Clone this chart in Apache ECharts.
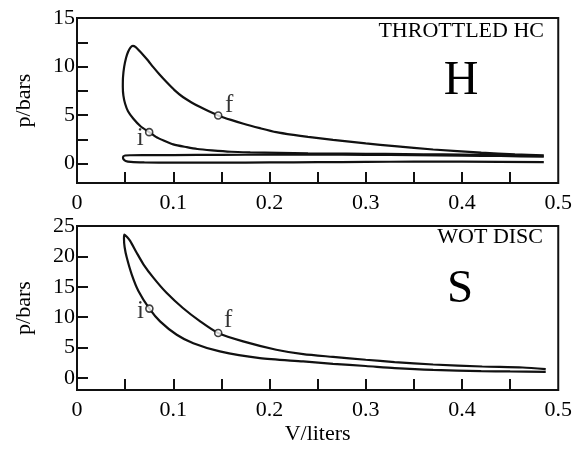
<!DOCTYPE html>
<html>
<head>
<meta charset="utf-8">
<script src="https://cdn.jsdelivr.net/npm/echarts@6/dist/echarts.min.js"></script>
<style>
html,body{margin:0;padding:0;background:#fff;}
#chart{width:575px;height:461px;}
</style>
</head>
<body>
<div id="chart"></div>
<script>
// ---- Data ----
// Throttled HC (H): main loop, compression (from BDC leftwards) then expansion
const hLoopV = [0.485,0.44,0.40,0.36,0.32,0.28,0.24,0.21,0.18,0.16,0.14,0.125,0.114,0.10,0.09,0.082,0.075,0.066,0.0586,0.053,0.050,0.0482,0.0476,0.0478,0.049,0.051,0.053,0.0555,0.058,
  0.061,0.065,0.069,0.074,0.079,0.086,0.093,0.101,0.110,0.119,0.128,0.137,0.1467,0.16,0.173,0.19,0.207,0.225,0.24,0.266,0.30,0.33,0.37,0.42,0.455,0.485];
const hLoopP = [0.82,0.88,0.92,0.96,1.0,1.02,1.05,1.1,1.16,1.22,1.36,1.5,1.69,1.98,2.38,2.75,3.24,3.85,4.62,5.4,6.17,7.0,7.9,8.9,9.96,10.9,11.5,11.95,12.13,
  12.0,11.6,11.17,10.6,9.96,9.15,8.4,7.6,6.86,6.3,5.82,5.38,4.96,4.5,4.1,3.65,3.24,2.95,2.75,2.45,2.08,1.8,1.45,1.12,0.96,0.85];
// Throttled HC (H): pumping loop
const hPumpV = [0.485,0.44,0.40,0.35,0.30,0.25,0.20,0.15,0.10,0.07,0.056,0.05,0.0478,0.0482,0.0505,0.056,0.07,0.10,0.15,0.20,0.25,0.30,0.35,0.40,0.485];
const hPumpP = [0.72,0.78,0.82,0.87,0.9,0.92,0.92,0.9,0.88,0.87,0.86,0.83,0.68,0.45,0.27,0.17,0.12,0.1,0.1,0.12,0.15,0.17,0.2,0.2,0.15];
// WOT DISC (S): loop, compression then expansion
const sLoopV = [0.487,0.45,0.42,0.37,0.33,0.30,0.266,0.235,0.19,0.1484,0.1208,0.1036,0.0863,0.0752,0.0638,0.0569,0.0517,0.0495,0.0488,0.0492,
  0.052,0.0552,0.062,0.069,0.0793,0.093,0.110,0.128,0.1467,0.1726,0.207,0.235,0.266,0.30,0.33,0.37,0.421,0.463,0.487];
const sLoopP = [1.0,1.05,1.12,1.3,1.6,1.95,2.3,2.7,3.25,4.35,5.7,7.1,9.3,11.4,14.3,17.0,19.8,21.5,23.0,23.6,
  23.2,22.56,20.6,18.7,16.5,14.0,11.5,9.3,7.38,6.0,4.63,3.9,3.45,2.98,2.6,2.2,1.87,1.7,1.43];
// marked points i and f
const hMarkV = [0.075, 0.1467];
const hMarkP = [3.24, 4.96];
const sMarkV = [0.0752, 0.1467];
const sMarkP = [11.4, 7.38];
const markNames = ['i', 'f'];
// axis ticks and labels
const xTickVals = [0.05,0.1,0.15,0.2,0.25,0.3,0.35,0.4,0.45];
const xLabelVals = [0,0.1,0.2,0.3,0.4,0.5];
const hYTickVals = [0,2.5,5,7.5,10,12.5];
const hYLabelVals = [0,5,10,15];
const sYTickVals = [0,5,10,15,20];
const sYLabelVals = [0,5,10,15,20,25];

const zip = (a, b) => a.map((v, i) => [v, b[i]]);
const FONT = '"Liberation Serif","DejaVu Serif",serif';
const INK = '#111';

function xAxisCfg(grid, withName) {
  const c = {
    gridIndex: grid, type: 'value', min: 0, max: 0.5,
    axisLine: {show: false, onZero: false},
    axisTick: {show: true, inside: true, length: 11, lineStyle: {color: INK, width: 2}, customValues: xTickVals},
    axisLabel: {customValues: xLabelVals, showMinLabel: true, showMaxLabel: true, margin: 9,
      fontSize: 22, color: '#000', fontFamily: FONT, formatter: v => String(v)},
    splitLine: {show: false}
  };
  if (withName) {
    c.name = 'V/liters'; c.nameLocation = 'middle'; c.nameGap = 33;
    c.nameTextStyle = {fontSize: 22, color: '#000', fontFamily: FONT};
  }
  return c;
}
function yAxisCfg(grid, min, max, ticks, labels) {
  return {
    gridIndex: grid, type: 'value', min: min, max: max,
    name: 'p/bars', nameLocation: 'middle', nameGap: 42, nameRotate: 90,
    nameTextStyle: {fontSize: 22, color: '#000', fontFamily: FONT},
    axisLine: {show: false, onZero: false},
    axisTick: {show: true, inside: true, length: 11, lineStyle: {color: INK, width: 2}, customValues: ticks},
    axisLabel: {customValues: labels, showMinLabel: true, showMaxLabel: true, margin: 2,
      fontSize: 22, color: '#000', fontFamily: FONT},
    splitLine: {show: false}
  };
}
function curve(xi, data) {
  return {type: 'line', xAxisIndex: xi, yAxisIndex: xi, data: data, showSymbol: false, smooth: 0.25,
    lineStyle: {color: INK, width: 2.2}, silent: true, animation: false, z: 3};
}
function marks(xi, v, p, offsets) {
  return {type: 'scatter', xAxisIndex: xi, yAxisIndex: xi, symbol: 'circle', symbolSize: 7,
    itemStyle: {color: '#fff', borderColor: INK, borderWidth: 1.6}, animation: false, z: 5,
    label: {show: true, position: 'inside', fontSize: 25, color: '#000', fontFamily: FONT},
    data: v.map((x, i) => ({value: [x, p[i]], name: markNames[i],
      label: {show: true, formatter: markNames[i], position: 'inside', offset: offsets[i],
        fontSize: 25, color: '#000', fontFamily: FONT}}))};
}

const chart = echarts.init(document.getElementById('chart'), null, {renderer: 'canvas'});
chart.setOption({
  backgroundColor: '#fff',
  animation: false,
  grid: [
    {left: 77, top: 18, width: 482, height: 165, show: true, borderColor: INK, borderWidth: 2, backgroundColor: 'transparent'},
    {left: 77, top: 226, width: 482, height: 164, show: true, borderColor: INK, borderWidth: 2, backgroundColor: 'transparent'}
  ],
  xAxis: [xAxisCfg(0, false), xAxisCfg(1, true)],
  yAxis: [yAxisCfg(0, -2, 15, hYTickVals, hYLabelVals), yAxisCfg(1, -2, 25, sYTickVals, sYLabelVals)],
  series: [
    curve(0, zip(hLoopV, hLoopP)),
    curve(0, zip(hPumpV, hPumpP)),
    curve(1, zip(sLoopV, sLoopP)),
    marks(0, hMarkV, hMarkP, [[-9, 6], [11, -10]]),
    marks(1, sMarkV, sMarkP, [[-9, 3], [10, -13]])
  ],
  graphic: [
    {type: 'text', style: {x: 544, y: 31.5, text: 'THROTTLED HC', align: 'right', verticalAlign: 'middle', font: '22px ' + FONT, fill: '#000'}},
    {type: 'text', style: {x: 461, y: 81, text: 'H', align: 'center', verticalAlign: 'middle', font: '48px ' + FONT, fill: '#000'}},
    {type: 'text', style: {x: 543, y: 237.5, text: 'WOT DISC', align: 'right', verticalAlign: 'middle', font: '22px ' + FONT, fill: '#000'}},
    {type: 'text', style: {x: 460, y: 290, text: 'S', align: 'center', verticalAlign: 'middle', font: '47px ' + FONT, fill: '#000'}}
  ]
});
</script>
</body>
</html>
